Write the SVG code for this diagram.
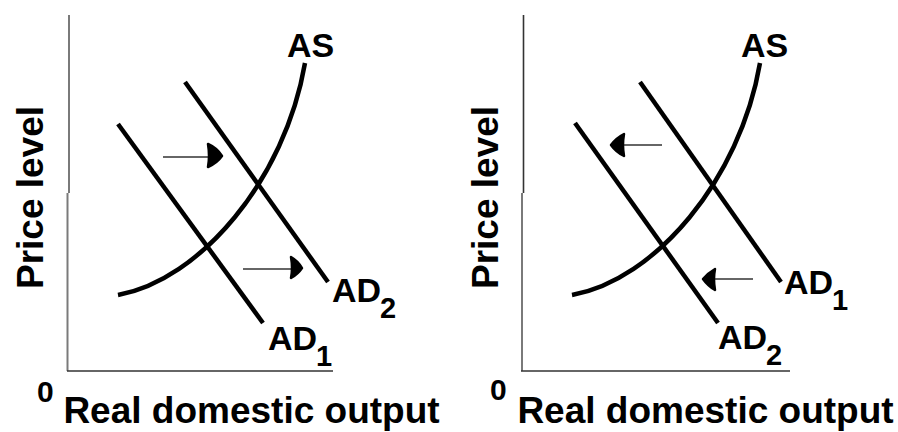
<svg xmlns="http://www.w3.org/2000/svg" width="898" height="432" viewBox="0 0 898 432">
<defs>
<style>
.bg{fill:#ffffff}
.axis{stroke:#7a7a7a;stroke-width:2;fill:none}
.axisd{stroke:#333;stroke-width:1.6;fill:none}
.curve{stroke:#000;stroke-width:4.5;fill:none;stroke-linecap:butt}
.shaft{stroke:#666;stroke-width:2;fill:none}
.head{fill:#000;stroke:#000;stroke-width:2.5;stroke-linejoin:round}
text{font-family:"Liberation Sans",Arial,sans-serif;font-weight:bold;fill:#000}
.lab{font-size:34px}
.sub{font-size:29px}
.ttl{font-size:37px}
.zero{font-size:30px}
</style>
</defs>
<rect class="bg" x="0" y="0" width="898" height="432"/>

<g id="left-panel">
  <g id="left-axes">
    <line class="axis" x1="69" y1="15" x2="69" y2="193"/>
    <line class="axis" x1="67.5" y1="193" x2="67.5" y2="371"/>
    <line class="axisd" x1="67" y1="371" x2="333" y2="371"/>
  </g>
  <text id="left-zero" class="zero" x="37" y="402">0</text>
  <text id="left-xlabel" class="ttl" x="251.5" y="423" text-anchor="middle">Real domestic output</text>
  <text id="left-ylabel" class="ttl" transform="translate(43,197.5) rotate(-90)" text-anchor="middle">Price level</text>
  <g id="left-AS">
    <path class="curve" d="M118,295 C200,280 285,180 305,63"/>
    <text class="lab" x="287" y="57">AS</text>
  </g>
  <g id="left-AD1">
    <line class="curve" x1="118" y1="124" x2="263" y2="323"/>
    <text class="lab" x="268" y="350">AD<tspan class="sub" dx="-1" dy="16">1</tspan></text>
  </g>
  <g id="left-AD2">
    <line class="curve" x1="185" y1="82" x2="328" y2="282"/>
    <text class="lab" x="332" y="302">AD<tspan class="sub" dx="-1" dy="16">2</tspan></text>
  </g>
</g>

<g id="right-panel">
  <g id="right-axes">
    <line class="axisd" x1="523.5" y1="15" x2="523.5" y2="193"/>
    <line class="axis" x1="522" y1="193" x2="522" y2="371"/>
    <line class="axisd" x1="521" y1="371" x2="790" y2="371"/>
  </g>
  <text id="right-zero" class="zero" x="490" y="400">0</text>
  <text id="right-xlabel" class="ttl" x="705.5" y="423" text-anchor="middle">Real domestic output</text>
  <text id="right-ylabel" class="ttl" transform="translate(498,197.5) rotate(-90)" text-anchor="middle">Price level</text>
  <g id="right-AS">
    <path class="curve" d="M572,295 C655,280 740,180 760,63"/>
    <text class="lab" x="741" y="57">AS</text>
  </g>
  <g id="right-AD1">
    <line class="curve" x1="640" y1="82" x2="781" y2="282"/>
    <text class="lab" x="784" y="294">AD<tspan class="sub" dx="-1" dy="16">1</tspan></text>
  </g>
  <g id="right-AD2">
    <line class="curve" x1="575" y1="123" x2="718" y2="323"/>
    <text class="lab" x="718" y="349">AD<tspan class="sub" dx="-1" dy="16">2</tspan></text>
  </g>
</g>

<g id="connectors">
  <g id="arrow-left-upper">
    <line class="shaft" x1="163" y1="157" x2="208" y2="157"/>
    <path class="head" d="M208,144 Q217,148 222,156 Q217,163 208,167 Q210,156 208,144 Z"/>
  </g>
  <g id="arrow-left-lower">
    <line class="shaft" x1="243" y1="269" x2="291" y2="269"/>
    <path class="head" d="M291,257 Q298,261 302,268 Q298,274 291,278 Q293,268 291,257 Z"/>
  </g>
  <g id="arrow-right-upper">
    <line class="shaft" x1="623" y1="145" x2="662" y2="145"/>
    <path class="head" d="M624,134 Q616,138 611,145 Q616,152 624,156 Q622,145 624,134 Z"/>
  </g>
  <g id="arrow-right-lower">
    <line class="shaft" x1="715" y1="279" x2="753" y2="279"/>
    <path class="head" d="M715,269 Q708,273 703,279 Q708,286 715,290 Q713,279 715,269 Z"/>
  </g>
</g>
</svg>
